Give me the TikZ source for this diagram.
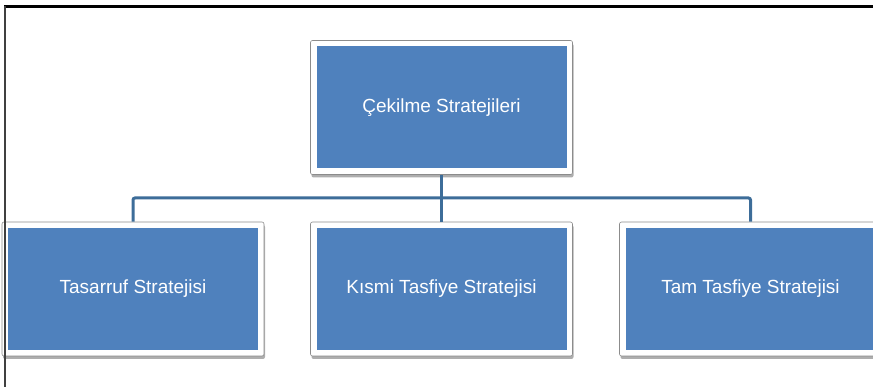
\documentclass[tikz,border=0pt]{standalone}
\usepackage{fontspec}
\setmainfont{Liberation Sans}
\usetikzlibrary{shadows}
\definecolor{boxblue}{HTML}{4F81BD}
\definecolor{connblue}{HTML}{3D6D99}
\tikzset{
  outerbox/.style={draw=black!45, line width=0.6pt, fill=white, rounded corners=2pt,
    minimum width=262pt, minimum height=134pt, inner sep=0pt,
    drop shadow={shadow xshift=1pt, shadow yshift=-3pt, opacity=0.45, fill=black!70}},
  innerbox/.style={fill=boxblue, minimum width=250pt, minimum height=122pt, inner sep=0pt,
    text=white, font=\fontsize{19}{22}\selectfont},
  conn/.style={draw=connblue, line width=3pt, rounded corners=2pt},
  frameline/.style={draw=black, line width=2.5pt},
  sideline/.style={draw=black!75, line width=1.5pt}
}
\begin{document}
\begin{tikzpicture}[x=1pt,y=1pt]
\useasboundingbox (0,0) rectangle (873,387);
\clip (0,0) rectangle (873,387);
% hub coordinate
\coordinate (hub) at (441.5,189);
% connectors (behind boxes)
\node[outerbox] (T) at (441.5,279.5) {};
\node[outerbox] (L) at (133,98) {};
\node[outerbox] (M) at (441.5,98) {};
\node[outerbox] (R) at (750.5,98) {};
\draw[conn] (T.south) -- (M.north);
\draw[conn] (L.north) |- (hub) -| (R.north);
\node[innerbox] (Ti) at (T.center) {Çekilme Stratejileri};
\node[innerbox] (Li) at (L.center) {Tasarruf Stratejisi};
\node[innerbox] (Mi) at (M.center) {Kısmi Tasfiye Stratejisi};
\node[innerbox] (Ri) at (R.center) {Tam Tasfiye Stratejisi};
% frame lines
\coordinate (ftl) at (4,380.5);
\coordinate (ftr) at (873,380.5);
\coordinate (fbl) at (5,0);
\draw[frameline] (ftl) -- (ftr);
\draw[sideline] (5,381) -- (fbl);
\end{tikzpicture}
\end{document}
